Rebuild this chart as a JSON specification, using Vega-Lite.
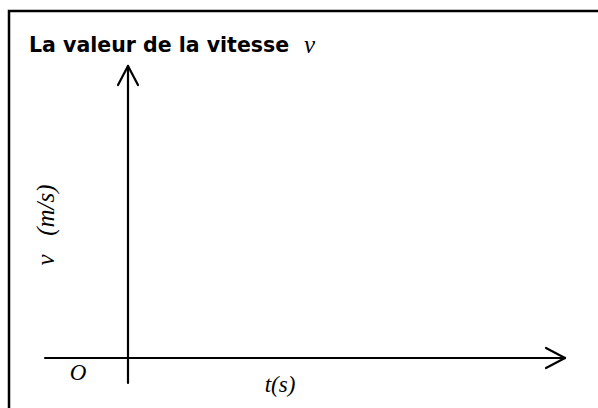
{
  "$schema": "https://vega.github.io/schema/vega-lite/v6.json",
  "width": 598,
  "height": 408,
  "autosize": {"type": "none"},
  "padding": 0,
  "background": "white",
  "config": {"view": {"stroke": null}},
  "datasets": {
    "frame": [{"x": 9, "x2": 602, "y": 11, "y2": 412}],
    "axes": [
      {"name": "t", "x": 45, "x2": 565, "y": 358, "y2": 358},
      {"name": "v", "x": 128, "x2": 128, "y": 66, "y2": 383},
      {"name": "v_head_l", "x": 128, "x2": 118, "y": 66, "y2": 85},
      {"name": "v_head_r", "x": 128, "x2": 138, "y": 66, "y2": 85},
      {"name": "t_head_u", "x": 565, "x2": 546, "y": 358, "y2": 348},
      {"name": "t_head_d", "x": 565, "x2": 546, "y": 358, "y2": 368}
    ],
    "title": [{"x": 29, "y": 46, "text": "La valeur de la vitesse"}],
    "titleVar": [{"x": 304, "y": 45, "text": "v"}],
    "labels": [
      {"x": 78, "y": 373, "text": "O"},
      {"x": 280, "y": 385, "text": "t(s)"}
    ],
    "ylabel": [{"x": 46, "y": 225, "text": "v\u00a0\u00a0\u00a0(m/s)"}]
  },
  "layer": [
    {
      "data": {"name": "frame"},
      "mark": {"type": "rect", "fill": null, "stroke": "black", "strokeWidth": 2.5},
      "encoding": {
        "x": {"field": "x", "type": "quantitative", "scale": {"domain": [0, 598], "nice": false, "zero": false}, "axis": null},
        "x2": {"field": "x2"},
        "y": {"field": "y", "type": "quantitative", "scale": {"domain": [0, 408], "reverse": true, "nice": false, "zero": false}, "axis": null},
        "y2": {"field": "y2"}
      }
    },
    {
      "data": {"name": "axes"},
      "mark": {"type": "rule", "stroke": "black", "strokeWidth": 2.2, "strokeCap": "round"},
      "encoding": {
        "x": {"field": "x", "type": "quantitative"},
        "x2": {"field": "x2"},
        "y": {"field": "y", "type": "quantitative"},
        "y2": {"field": "y2"}
      }
    },
    {
      "data": {"name": "title"},
      "mark": {"type": "text", "align": "left", "baseline": "middle", "font": "DejaVu Sans", "fontWeight": "bold", "fontSize": 20.5, "color": "black"},
      "encoding": {
        "x": {"field": "x", "type": "quantitative"},
        "y": {"field": "y", "type": "quantitative"},
        "text": {"field": "text"}
      }
    },
    {
      "data": {"name": "titleVar"},
      "mark": {"type": "text", "align": "left", "baseline": "middle", "font": "Liberation Serif", "fontStyle": "italic", "fontSize": 25, "color": "black"},
      "encoding": {
        "x": {"field": "x", "type": "quantitative"},
        "y": {"field": "y", "type": "quantitative"},
        "text": {"field": "text"}
      }
    },
    {
      "data": {"name": "labels"},
      "mark": {"type": "text", "align": "center", "baseline": "middle", "font": "Liberation Serif", "fontStyle": "italic", "fontSize": 23, "color": "black"},
      "encoding": {
        "x": {"field": "x", "type": "quantitative"},
        "y": {"field": "y", "type": "quantitative"},
        "text": {"field": "text"}
      }
    },
    {
      "data": {"name": "ylabel"},
      "mark": {"type": "text", "align": "center", "baseline": "middle", "angle": 270, "font": "Liberation Serif", "fontStyle": "italic", "fontSize": 25, "color": "black"},
      "encoding": {
        "x": {"field": "x", "type": "quantitative"},
        "y": {"field": "y", "type": "quantitative"},
        "text": {"field": "text"}
      }
    }
  ]
}
